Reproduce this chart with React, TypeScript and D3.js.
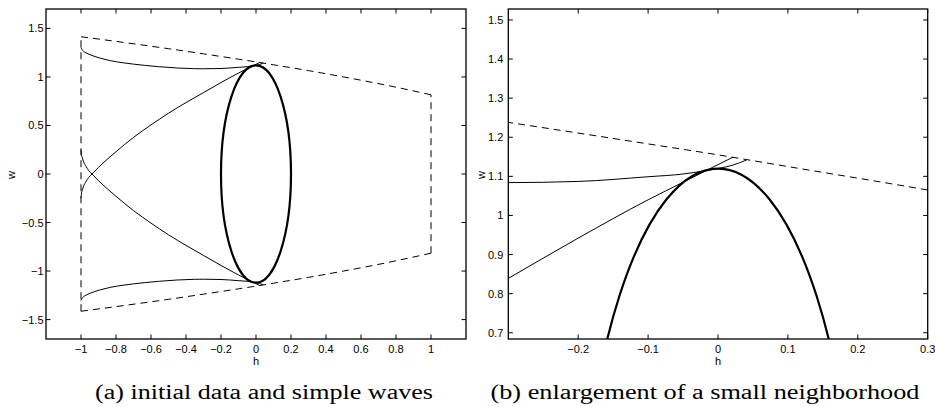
import { useMemo } from "react";
import { curveMonotoneX, line, scaleLinear } from "d3";

const WIDTH = 935;
const HEIGHT = 407;

// dashed boundary of the initial data region
const edgeH = [-1, -0.75, -0.5, -0.3, -0.1, 0, 0.1, 0.3, 0.5, 0.75, 1];
const edgeTopW = [1.414, 1.354, 1.291, 1.238, 1.183, 1.155, 1.125, 1.065, 1.0, 0.913, 0.816];
const edgeBottomW = [-1.414, -1.354, -1.291, -1.238, -1.183, -1.155, -1.125, -1.065, -1.0, -0.913, -0.816];

// simple waves (thin curves)
const flatH = [-1, -0.995, -0.985, -0.97, -0.947, -0.92, -0.889, -0.833, -0.76, -0.7, -0.63, -0.557, -0.45, -0.35, -0.3, -0.2, -0.1, -0.05, -0.02, 0, 0.02, 0.041];
const flatUpperW = [1.305, 1.283, 1.263, 1.247, 1.228, 1.21, 1.193, 1.168, 1.146, 1.132, 1.118, 1.106, 1.092, 1.085, 1.084, 1.087, 1.099, 1.106, 1.114, 1.12, 1.128, 1.142];
const flatLowerW = [-1.305, -1.283, -1.263, -1.247, -1.228, -1.21, -1.193, -1.168, -1.146, -1.132, -1.118, -1.106, -1.092, -1.085, -1.084, -1.087, -1.099, -1.106, -1.114, -1.12, -1.128, -1.142];

const steepH = [-1, -0.998, -0.993, -0.985, -0.972, -0.956, -0.937, -0.9, -0.85, -0.8, -0.7, -0.6, -0.5, -0.4, -0.3, -0.2, -0.1, -0.05, 0, 0.0214];
const steepUpperW = [-0.25, -0.21, -0.17, -0.125, -0.08, -0.036, 0, 0.069, 0.152, 0.23, 0.377, 0.506, 0.626, 0.736, 0.839, 0.942, 1.04, 1.085, 1.13, 1.149];
const steepLowerW = [0.25, 0.21, 0.17, 0.125, 0.08, 0.036, 0, -0.069, -0.152, -0.23, -0.377, -0.506, -0.626, -0.736, -0.839, -0.942, -1.04, -1.085, -1.13, -1.149];

// thick ellipse
const ellipseCenter = [0, 0];
const ellipseRadii = [0.2, 1.12];

// axes
const ticksAH = [-1, -0.8, -0.6, -0.4, -0.2, 0, 0.2, 0.4, 0.6, 0.8, 1];
const ticksAW = [-1.5, -1, -0.5, 0, 0.5, 1, 1.5];
const ticksBH = [-0.2, -0.1, 0, 0.1, 0.2, 0.3];
const ticksBW = [0.7, 0.8, 0.9, 1, 1.1, 1.2, 1.3, 1.4, 1.5];

const captionA = "(a) initial data and simple waves";
const captionB = "(b) enlargement of a small neighborhood";

const TICK = 4.5;
const FONT = "'Liberation Sans', Arial, Helvetica, sans-serif";

const zip = (hs, ws) => hs.map((h, i) => [h, ws[i]]);

function fmt(v) {
  return String(v).replace("-", "\u2212");
}

function Panel({ id, box, hDomain, wDomain, hTicks, wTicks, labelGap, wLabelX, caption, captionX, captionLen }) {
  const x = useMemo(() => scaleLinear().domain(hDomain).range([box.left, box.right]), [hDomain, box]);
  const y = useMemo(() => scaleLinear().domain(wDomain).range([box.bottom, box.top]), [wDomain, box]);

  const gen = line().x((d) => x(d[0])).y((d) => y(d[1])).curve(curveMonotoneX);
  const straight = line().x((d) => x(d[0])).y((d) => y(d[1]));

  const curves = [
    zip(flatH, flatUpperW),
    zip(flatH, flatLowerW),
    zip(steepH, steepUpperW),
    zip(steepH, steepLowerW)
  ];
  const first = 0;
  const last = edgeH.length - 1;
  const dashed = [
    gen(zip(edgeH, edgeTopW)),
    gen(zip(edgeH, edgeBottomW)),
    straight([[edgeH[first], edgeBottomW[first]], [edgeH[first], edgeTopW[first]]]),
    straight([[edgeH[last], edgeBottomW[last]], [edgeH[last], edgeTopW[last]]])
  ];

  const midX = (box.left + box.right) / 2;
  const midY = (box.top + box.bottom) / 2;

  return (
    <g>
      <defs>
        <clipPath id={id}>
          <rect x={box.left} y={box.top} width={box.right - box.left} height={box.bottom - box.top} />
        </clipPath>
      </defs>
      <g clipPath={`url(#${id})`} fill="none" stroke="#000">
        {dashed.map((d, i) => (
          <path key={i} d={d} strokeWidth={1} strokeDasharray="7,5" />
        ))}
        {curves.map((c, i) => (
          <path key={i} d={gen(c)} strokeWidth={1} />
        ))}
        <ellipse
          cx={x(ellipseCenter[0])}
          cy={y(ellipseCenter[1])}
          rx={x(ellipseCenter[0] + ellipseRadii[0]) - x(ellipseCenter[0])}
          ry={y(ellipseCenter[1]) - y(ellipseCenter[1] + ellipseRadii[1])}
          strokeWidth={2.2}
        />
      </g>
      <g stroke="#000" strokeWidth={1}>
        {hTicks.map((t) => (
          <g key={t}>
            <line x1={x(t)} x2={x(t)} y1={box.bottom} y2={box.bottom - TICK} />
            <line x1={x(t)} x2={x(t)} y1={box.top} y2={box.top + TICK} />
          </g>
        ))}
        {wTicks.map((t) => (
          <g key={t}>
            <line x1={box.left} x2={box.left + TICK} y1={y(t)} y2={y(t)} />
            <line x1={box.right} x2={box.right - TICK} y1={y(t)} y2={y(t)} />
          </g>
        ))}
      </g>
      <rect x={box.left} y={box.top} width={box.right - box.left} height={box.bottom - box.top} fill="none" stroke="#000" strokeWidth={1.3} />
      <g fontFamily={FONT} fontSize={11} fill="#000">
        {hTicks.map((t) => (
          <text key={t} x={x(t)} y={box.bottom + 14} textAnchor="middle">
            {fmt(t)}
          </text>
        ))}
        {wTicks.map((t) => (
          <text key={t} x={box.left - labelGap} y={y(t) + 4} textAnchor="end">
            {fmt(t)}
          </text>
        ))}
        <text x={midX} y={box.bottom + 26} textAnchor="middle">h</text>
        <text transform={`translate(${wLabelX},${midY + 1}) rotate(-90)`} textAnchor="middle">w</text>
      </g>
      <text
        x={captionX}
        y={399}
        fontFamily="'Liberation Serif', 'Times New Roman', serif"
        fontSize={20}
        textLength={captionLen}
        lengthAdjust="spacingAndGlyphs"
        textAnchor="middle"
      >
        {caption}
      </text>
    </g>
  );
}

const boxA = { left: 46, right: 466, top: 9, bottom: 339 };
const boxB = { left: 508.3, right: 927.7, top: 9, bottom: 339 };
const domainAH = [-1.2, 1.2];
const domainAW = [-1.7, 1.7];
const domainBH = [-0.3, 0.3];
const domainBW = [0.684, 1.528];

export default function App() {
  return (
    <svg
      width={WIDTH}
      height={HEIGHT}
      viewBox={`0 0 ${WIDTH} ${HEIGHT}`}
      style={{ position: "absolute", left: 0, top: 0, background: "#fff" }}
    >
      <Panel
        id="clip-a"
        box={boxA}
        hDomain={domainAH}
        wDomain={domainAW}
        hTicks={ticksAH}
        wTicks={ticksAW}
        labelGap={2.5}
        wLabelX={15}
        caption={captionA}
        captionX={264}
        captionLen={338}
      />
      <Panel
        id="clip-b"
        box={boxB}
        hDomain={domainBH}
        wDomain={domainBW}
        hTicks={ticksBH}
        wTicks={ticksBW}
        labelGap={5}
        wLabelX={485}
        caption={captionB}
        captionX={705}
        captionLen={429}
      />
    </svg>
  );
}
